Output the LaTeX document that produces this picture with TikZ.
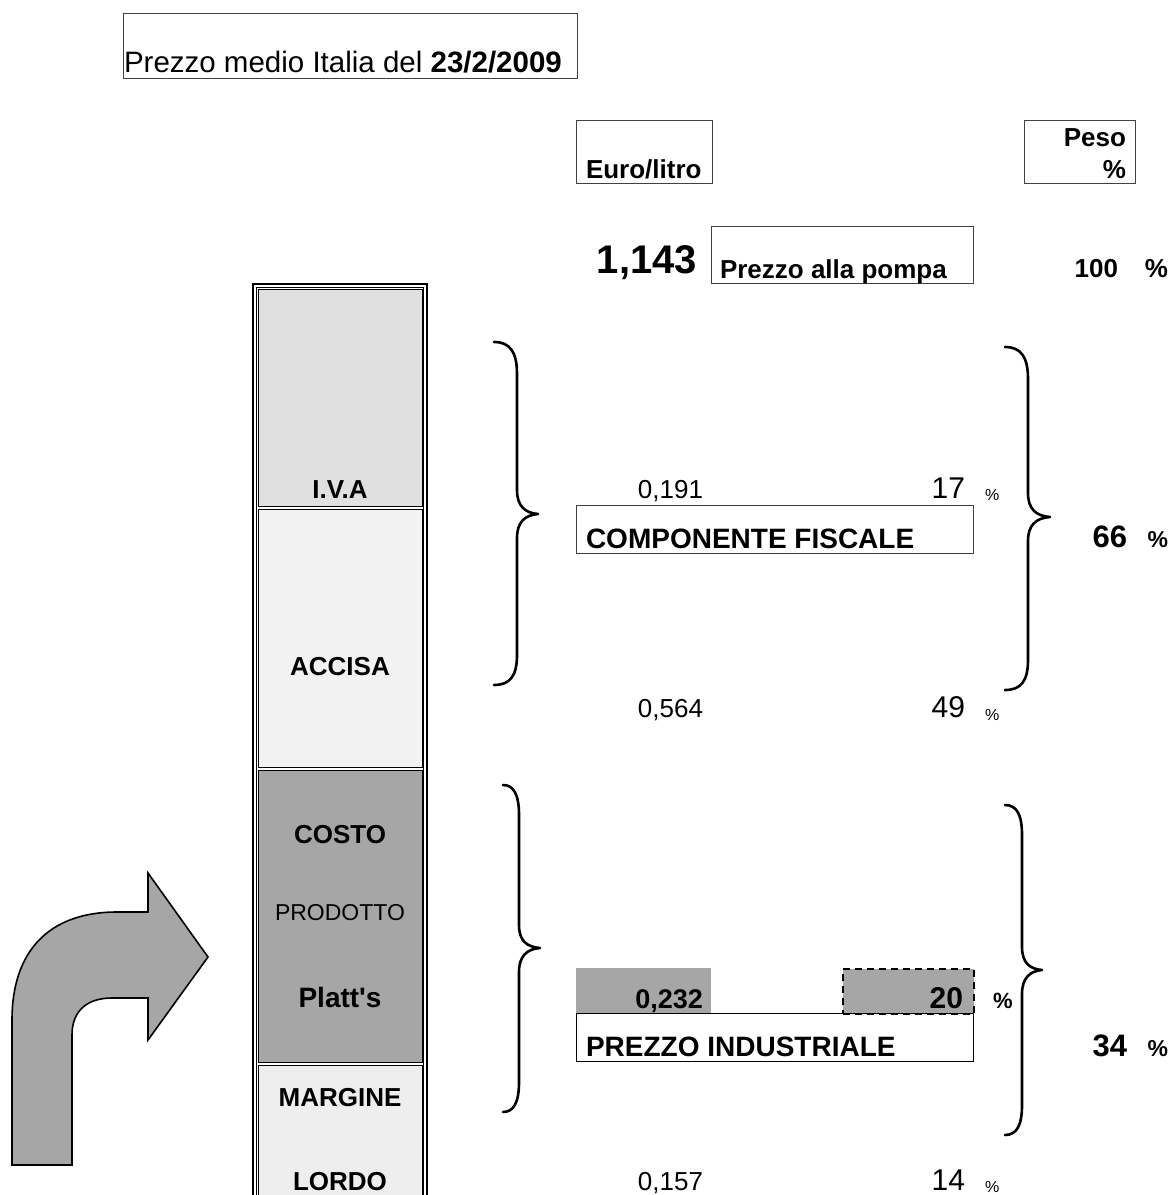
\documentclass[tikz,border=0pt]{standalone}
\usepackage{fontspec}
\setmainfont{Liberation Sans}[Ligatures=TeXOff]
\newcommand\fsz[1]{\fontsize{#1pt}{#1pt}\selectfont}
\definecolor{dkgray}{HTML}{A6A6A6}
\definecolor{ivagray}{HTML}{E0E0E0}
\definecolor{accgray}{HTML}{F2F2F2}
\definecolor{margray}{HTML}{EEEEEE}
\begin{document}
\begin{tikzpicture}[x=1pt,y=-1pt,
  txt/.style={inner sep=0pt,outer sep=0pt},
  boxn/.style={draw=black!75,line width=1pt,inner sep=0pt,anchor=north west},
  cellbox/.style={draw=black,line width=1pt,inner sep=0pt,anchor=north west,minimum width=164pt},
  bracepath/.style={line width=2.6pt,line cap=round,line join=round},
  lab/.style={txt,anchor=base,font=\fsz{26}\bfseries}]
\useasboundingbox (0,0) rectangle (1171,1195);

% header boxes
\node[boxn,minimum width=454pt,minimum height=65pt] (titlebox) at (123,13) {};
\node[txt,anchor=base west] (title) at (124,72) {\fsz{29.5}Prezzo medio Italia del \textbf{23/2/2009}};

\node[boxn,minimum width=136pt,minimum height=63pt] (eurobox) at (576,120) {};
\node[txt,anchor=base west] (euro) at (586,178) {\fsz{26}\bfseries Euro/litro};

\node[boxn,minimum width=111pt,minimum height=63pt] (pesobox) at (1024,120) {};
\node[txt,anchor=base east] (peso) at (1126,146) {\fsz{26}\bfseries Peso};
\node[txt,anchor=base east] (pesopc) at (1126,178) {\fsz{26}\bfseries \%};

\node[txt,anchor=base east] (tot) at (697,273) {\fsz{40}\bfseries 1,143};
\node[boxn,minimum width=262pt,minimum height=57pt] (pompabox) at (711,226) {};
\node[txt,anchor=base west] (pompa) at (720,278) {\fsz{26}\bfseries Prezzo alla pompa};
\node[txt,anchor=base east] (cento) at (1118,277) {\fsz{26}\bfseries 100};
\node[txt,anchor=base east] (centopc) at (1168,277) {\fsz{26}\bfseries \%};

% column
\draw[line width=2pt] (253,1200) -- (253,284) -- (427,284) -- (427,1200);
\draw[line width=1pt] (256.5,1200) -- (256.5,287.5) -- (423.5,287.5) -- (423.5,1200);
\node[cellbox,fill=ivagray,minimum height=217pt] (iva) at (258,289) {};
\node[cellbox,fill=accgray,minimum height=258pt] (accisa) at (258,509) {};
\node[cellbox,fill=dkgray,minimum height=292pt] (costo) at (258,770) {};
\node[cellbox,fill=margray,minimum height=140pt] (margine) at (258,1065) {};
\node[lab] (ivat) at (340,498) {I.V.A};
\node[lab] (accisat) at (340,675) {ACCISA};
\node[lab] (costot) at (340,843) {COSTO};
\node[txt,anchor=base,font=\fsz{23}] (prodt) at (340,920) {PRODOTTO};
\node[txt,anchor=base,font=\fsz{28}\bfseries] (platt) at (340,1007) {Platt's};
\node[lab] (marg) at (340,1106) {MARGINE};
\node[lab] (lordo) at (340,1190) {LORDO};

% arrow
\draw[fill=dkgray,line width=1.6pt,line join=miter]
  (12,1165) -- (12,1020) .. controls (12,950) and (50,912) .. (117,912)
  -- (148,912) -- (148,873) -- (208,957) -- (148,1040) -- (148,998)
  -- (112,998) .. controls (88,998) and (72,1010) .. (72,1035) -- (72,1165) -- cycle;

% braces
\draw[bracepath] (494,342) .. controls (510,342) and (517,352) .. (517,374) -- (517,490)
  .. controls (517,506) and (525,513) .. (538,514) .. controls (525,515) and (517,522) .. (517,538)
  -- (517,655) .. controls (517,676) and (510,685) .. (494,685);
\draw[bracepath] (1005,347) .. controls (1021,347) and (1028,357) .. (1028,379) -- (1028,493)
  .. controls (1028,509) and (1036,516) .. (1050,517) .. controls (1036,518) and (1028,525) .. (1028,541)
  -- (1028,660) .. controls (1028,681) and (1021,690) .. (1005,690);
\draw[bracepath] (503,785) .. controls (514,785) and (519,795) .. (519,815) -- (519,925)
  .. controls (519,941) and (527,947) .. (540,948) .. controls (527,949) and (519,956) .. (519,972)
  -- (519,1082) .. controls (519,1102) and (514,1112) .. (503,1112);
\draw[bracepath] (1005,805) .. controls (1017,805) and (1022,815) .. (1022,835) -- (1022,947)
  .. controls (1022,963) and (1030,969) .. (1042,970) .. controls (1030,971) and (1022,978) .. (1022,994)
  -- (1022,1105) .. controls (1022,1125) and (1017,1135) .. (1005,1135);

% fiscal block
\node[txt,anchor=base east] (v191) at (703,498) {\fsz{26}0,191};
\node[txt,anchor=base east] (p17) at (965,498) {\fsz{30}17};
\node[txt,anchor=base west] (p17pc) at (985,500) {\fsz{16}\%};
\node[boxn,minimum width=397pt,minimum height=48pt] (fiscbox) at (576,505) {};
\node[txt,anchor=base west] (fisc) at (586,548) {\fsz{28}\bfseries COMPONENTE FISCALE};
\node[txt,anchor=base east] (p66) at (1127,547) {\fsz{31}\bfseries 66};
\node[txt,anchor=base east] (p66pc) at (1168,547) {\fsz{23}\bfseries \%};
\node[txt,anchor=base east] (v564) at (703,717) {\fsz{26}0,564};
\node[txt,anchor=base east] (p49) at (965,717) {\fsz{30}49};
\node[txt,anchor=base west] (p49pc) at (985,720) {\fsz{16}\%};

% industrial block
\node[inner sep=0pt,anchor=north west,fill=dkgray,minimum width=135pt,minimum height=45pt] (v232box) at (576,968) {};
\node[txt,anchor=base east] (v232) at (703,1008) {\fsz{27}\bfseries 0,232};
\node[inner sep=0pt,anchor=north west,fill=dkgray,draw=black,line width=2pt,dash pattern=on 7pt off 5pt,minimum width=131pt,minimum height=45pt] (p20box) at (842,968) {};
\node[txt,anchor=base east] (p20) at (963,1008) {\fsz{30}\bfseries 20};
\node[txt,anchor=base west] (p20pc) at (993,1008) {\fsz{22}\bfseries \%};
\node[boxn,draw=black,minimum width=397pt,minimum height=48pt] (indbox) at (576,1013) {};
\node[txt,anchor=base west] (ind) at (586,1056) {\fsz{28}\bfseries PREZZO INDUSTRIALE};
\node[txt,anchor=base east] (p34) at (1127,1056) {\fsz{31}\bfseries 34};
\node[txt,anchor=base east] (p34pc) at (1168,1056) {\fsz{23}\bfseries \%};
\node[txt,anchor=base east] (v157) at (703,1190) {\fsz{26}0,157};
\node[txt,anchor=base east] (p14) at (965,1190) {\fsz{30}14};
\node[txt,anchor=base west] (p14pc) at (985,1192) {\fsz{16}\%};
\end{tikzpicture}
\end{document}
